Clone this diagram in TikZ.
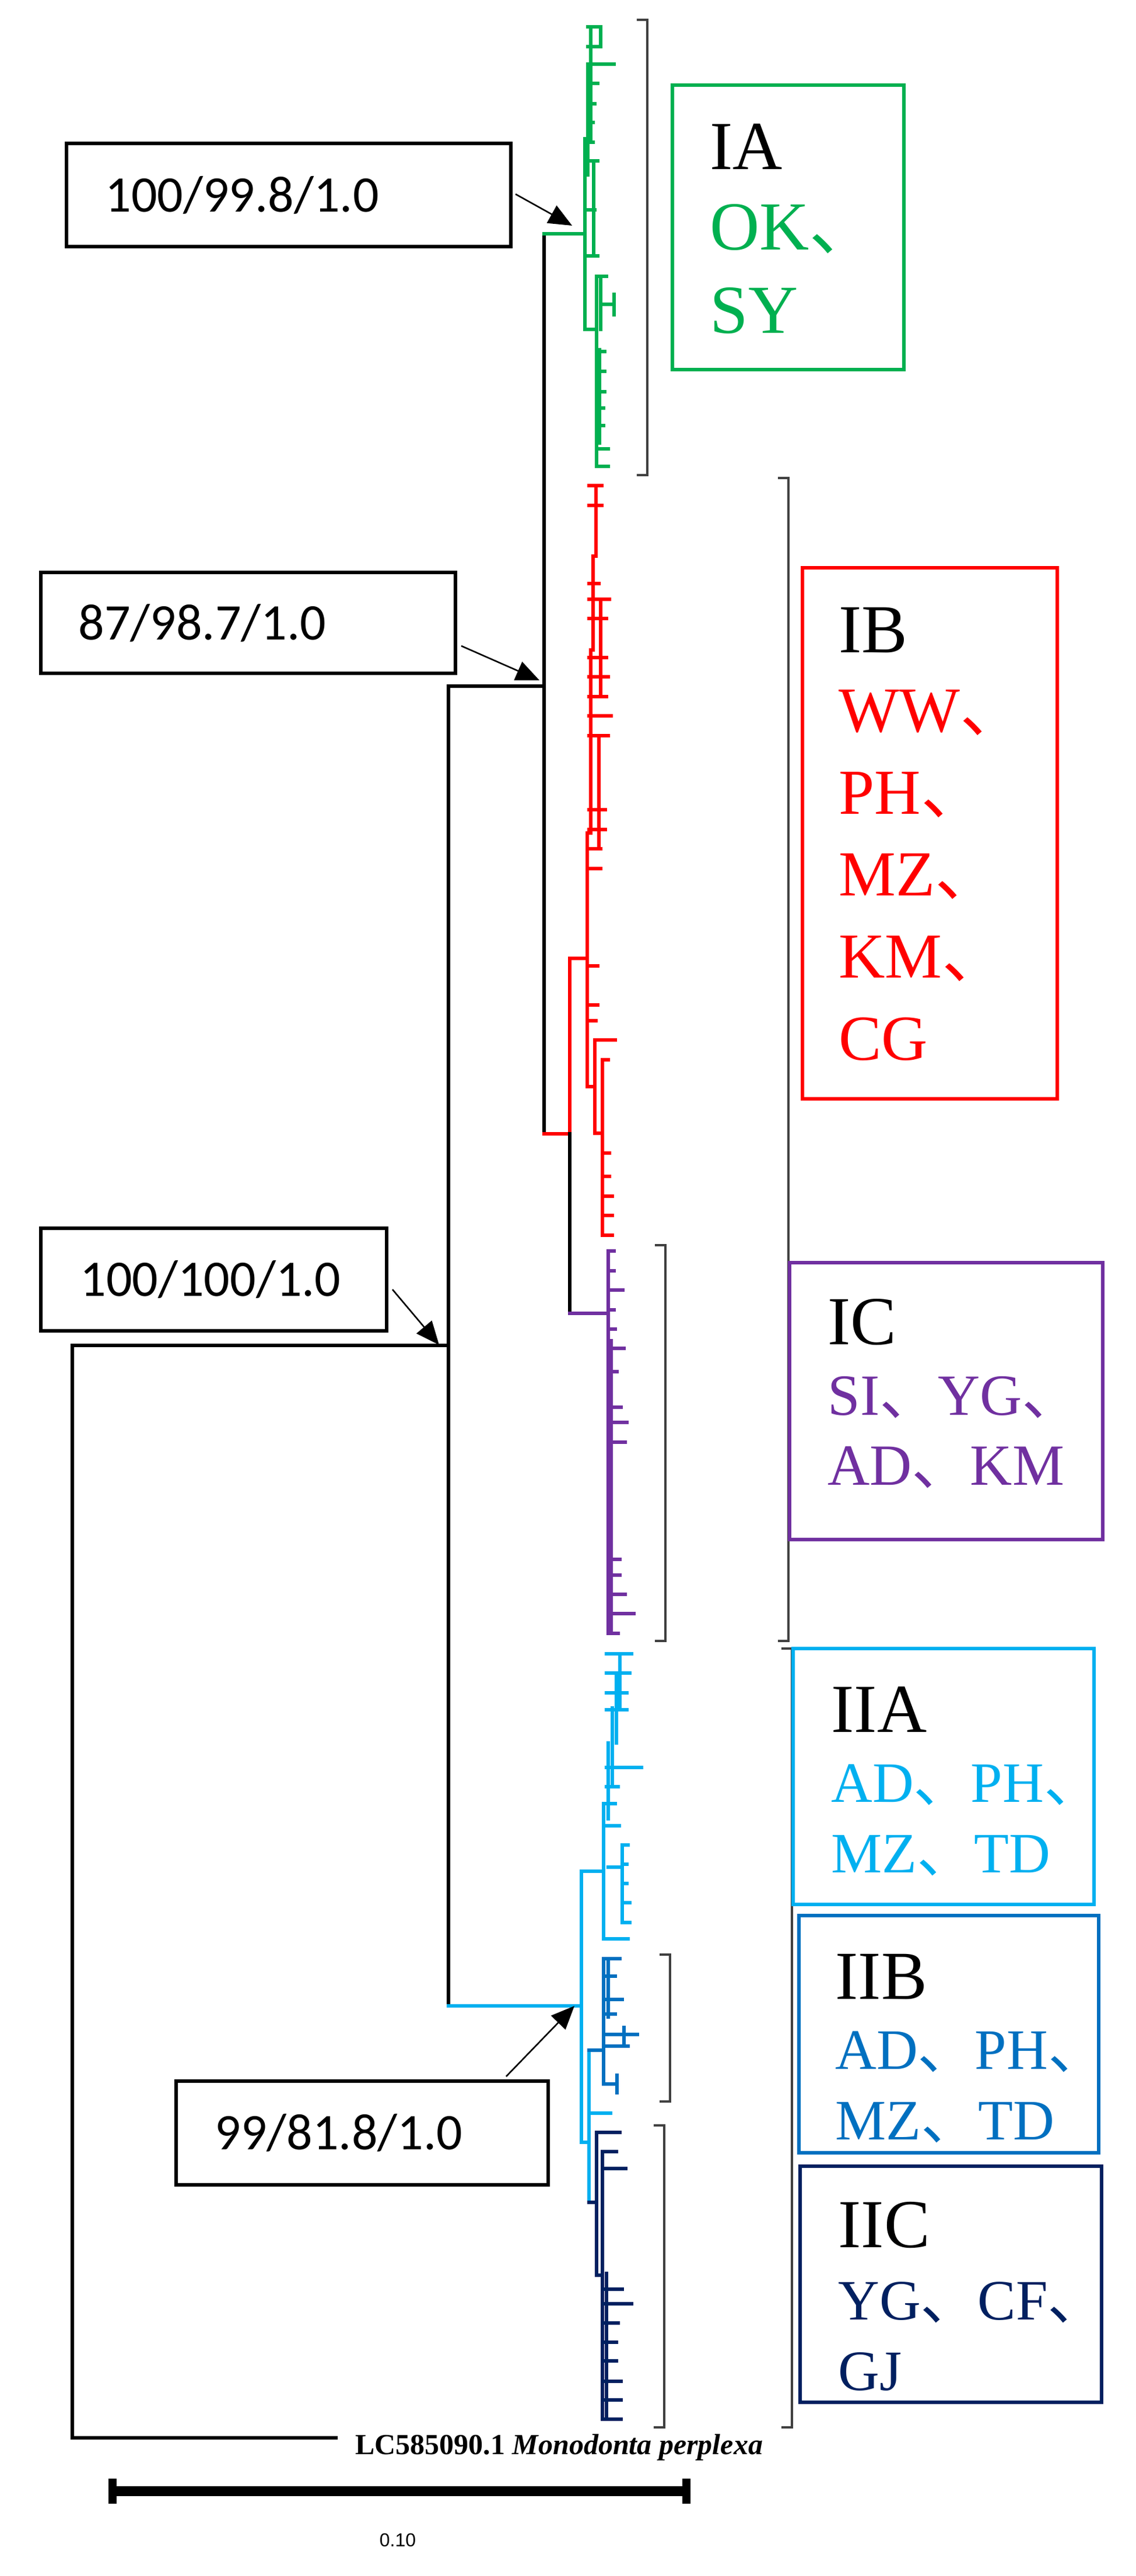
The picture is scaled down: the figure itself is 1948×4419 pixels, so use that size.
\documentclass[tikz,border=0pt]{standalone}
\usepackage{fontspec}
\setmainfont{Liberation Serif}
\newfontfamily\labfont{Carlito}
\newfontfamily\cjkfont{Noto Sans CJK SC}
\newfontfamily\scalefont{Liberation Sans}
\usetikzlibrary{arrows.meta}
\newcommand{\dun}{{\cjkfont 、}}
\definecolor{cG}{HTML}{00B050}
\definecolor{cR}{HTML}{FF0000}
\definecolor{cP}{HTML}{7030A0}
\definecolor{cL}{HTML}{00B0F0}
\definecolor{cB}{HTML}{0070C0}
\definecolor{cN}{HTML}{002060}
\definecolor{brk}{HTML}{404040}
\begin{document}
\begin{tikzpicture}[x=0.5pt,y=-0.5pt,
  br/.style={line width=3pt,line cap=rect},
  cl/.style={line width=2.8pt,line cap=rect},
  bracket/.style={draw=brk,line width=2pt},
  lbox/.style={draw=black,line width=3pt,fill=white,inner sep=0pt},
  ltext/.style={font=\labfont\fontsize{44}{50}\selectfont,anchor=west,inner sep=0pt},
  cbox/.style={line width=2.8pt},
  head/.style={font=\fontsize{59}{60}\selectfont,anchor=base west,inner sep=0pt},
  arr/.style={line width=1.3pt,-{Triangle[length=20pt,width=17pt]}}]
\useasboundingbox (0,0) rectangle (1948,4419);
% ---------- backbone
\coordinate (root) at (124,2308);
\coordinate (nII) at (769,2308);
\coordinate (nI) at (769,1177);
\coordinate (nIA) at (933,401);
\coordinate (nIBC) at (933,1945);
\coordinate (nIIn) at (769,3441);
\coordinate (og) at (576,4182);
\draw[br] (og) -- (124,4182) -- (root) -- (nII);
\draw[br] (nI) -- (nIIn);
\draw[br] (nI) -- (933,1177);
\draw[br] (nIA) -- (nIBC);
% ---------- IA green
\begin{scope}[cl,draw=cG]
\draw[br,cG] (nIA) -- (1003,401);
\draw (1003,238) -- (1003,565);
\draw (1008,110) -- (1008,300);
\draw (1013,46) -- (1013,238);
\draw (1030,46) -- (1030,80);
\foreach \y/\e in {46/1030,80/1030,110/1053,143/1025,178/1020,210/1017,244/1017,276/1025,360/1020,439/1025}
  \draw (1008,\y) -- (\e,\y);
\draw (1018,276) -- (1018,439);
\draw (1003,565) -- (1023,565);
\draw (1023,474) -- (1023,800);
\draw (1028,600) -- (1028,760);
\draw (1023,474) -- (1040,474);
\draw (1030,474) -- (1030,565);
\draw (1030,522) -- (1053,522);
\draw (1053,505) -- (1053,540);
\foreach \y/\e in {603/1037,637/1037,672/1037,700/1035,730/1035,770/1043,800/1043}
  \draw (1023,\y) -- (\e,\y);
\end{scope}
% ---------- IB red
\begin{scope}[cl,draw=cR]
\draw (nIBC) -- (977,1945);
\draw (977,1644) -- (977,1945);
\draw (977,1644) -- (1007,1644);
\draw (1007,1429) -- (1007,1864);
\draw (1013,1115) -- (1013,1429);
\draw (1017,954) -- (1017,1115);
\draw (1022,833) -- (1022,954);
\draw (1030,1028) -- (1030,1195);
\draw (1027,1262) -- (1027,1456);
\foreach \y/\e in {833/1032,867/1032,1001/1027,1028/1045,1061/1040,1128/1040,1161/1043,1195/1040,1228/1048,1262/1043,1389/1038,1423/1038,1456/1030,1490/1030,1657/1025,1724/1025,1751/1022}
  \draw (1010,\y) -- (\e,\y);
\draw (1007,1864) -- (1020,1864);
\draw (1020,1784) -- (1020,1944);
\draw (1020,1784) -- (1055,1784);
\draw (1020,1944) -- (1033,1944);
\draw (1033,1818) -- (1033,2119);
\foreach \y/\e in {1818/1043,1978/1045,2018/1045,2052/1050,2085/1050,2119/1050}
  \draw (1033,\y) -- (\e,\y);
\end{scope}
% ---------- IC purple
\draw[cl] (977,1945) -- (977,2253);
\begin{scope}[cl,draw=cP]
\draw (977,2253) -- (1043,2253);
\draw (1043,2146) -- (1043,2802);
\draw (1048,2300) -- (1048,2802);
\foreach \y/\e in {2146/1053,2180/1053,2213/1068,2247/1053,2280/1055,2313/1070,2353/1058,2414/1065,2440/1075,2474/1072,2675/1063,2702/1063,2735/1072,2768/1087,2802/1060}
  \draw (1043,\y) -- (\e,\y);
\end{scope}
% ---------- II
\begin{scope}[cl,draw=cL]
\draw[br,cL] (nIIn) -- (997,3441);
\draw (997,3210) -- (997,3675);
\draw (997,3210) -- (1035,3210);
\draw (1035,3094) -- (1035,3326);
\draw (1035,3326) -- (1077,3326);
\draw (1043,2990) -- (1043,3120);
\draw (1050,2930) -- (1050,3060);
\draw (1057,2870) -- (1057,2990);
\draw (1063,2837) -- (1063,2930);
\foreach \y/\e in {2837/1083,2870/1080,2904/1075,2933/1075,3032/1100,3065/1060,3094/1055,3132/1062}
  \draw (1040,\y) -- (\e,\y);
\draw (1043,3203) -- (1067,3203);
\draw (1067,3165) -- (1067,3298);
\foreach \y/\e in {3165/1077,3198/1075,3231/1075,3264/1080,3298/1080}
  \draw (1067,\y) -- (\e,\y);
\draw (997,3675) -- (1010,3675);
\draw (1010,3517) -- (1010,3778);
\draw (1010,3625) -- (1047,3625);
\end{scope}
\begin{scope}[cl,draw=cB]
\draw (1010,3517) -- (1035,3517);
\draw (1035,3360) -- (1035,3575);
\draw (1043,3360) -- (1043,3460);
\foreach \y/\e in {3360/1063,3390/1055,3430/1067,3455/1055,3510/1077,3575/1058}
  \draw (1035,\y) -- (\e,\y);
\draw (1035,3490) -- (1093,3490);
\draw (1070,3478) -- (1070,3510);
\draw (1058,3560) -- (1058,3590);
\end{scope}
\begin{scope}[cl,draw=cN]
\draw (1010,3778) -- (1023,3778);
\draw (1023,3658) -- (1023,3903);
\draw (1023,3658) -- (1063,3658);
\draw (1023,3903) -- (1033,3903);
\draw (1033,3691) -- (1033,4150);
\draw (1040,3900) -- (1040,4150);
\foreach \y/\e in {3691/1057,3720/1073,3927/1067,3952/1083,3985/1060,4018/1057,4050/1057,4085/1065,4117/1065,4150/1065}
  \draw (1033,\y) -- (\e,\y);
\end{scope}
% ---------- brackets
\foreach \x/\a/\b in {1110/34/815,1352/820/2815,1141/2136/2815,1358/2828/4164,1149/3353/3605,1139/3646/4164}
  \draw[bracket] (\x-18,\a) -- (\x,\a) -- (\x,\b) -- (\x-18,\b);
% ---------- clade boxes
\draw[cbox,cG] (1153,146) rectangle (1550,634);
\node[head] at (1217,290) {IA};
\node[head,cG] at (1217,428) {OK\dun};
\node[head,cG] at (1217,571) {SY};
\draw[cbox,cR] (1376,974) rectangle (1813,1885);
\node[head] at (1438,1119) {IB};
\foreach \t/\y in {WW\dun/1255,PH\dun/1396,MZ\dun/1536,KM\dun/1677,CG/1818}
  \node[head,cR,font=\fontsize{55}{56}\selectfont] at (1438,\y) {\t};
\draw[cbox,cP] (1354,2166) rectangle (1891,2641);
\node[head] at (1419,2306) {IC};
\node[head,cP,font=\fontsize{50}{50}\selectfont] at (1419,2427) {SI\dun YG\dun};
\node[head,cP,font=\fontsize{50}{50}\selectfont] at (1419,2547) {AD\dun KM};
\draw[cbox,cL] (1360,2828) rectangle (1876,3267);
\node[head] at (1425,2971) {IIA};
\node[head,cL,font=\fontsize{49}{50}\selectfont] at (1425,3091) {AD\dun PH\dun};
\node[head,cL,font=\fontsize{49}{50}\selectfont] at (1425,3212) {MZ\dun TD};
\draw[cbox,cB] (1370,3286) rectangle (1884,3693);
\node[head] at (1432,3429) {IIB};
\node[head,cB,font=\fontsize{49}{50}\selectfont] at (1432,3549) {AD\dun PH\dun};
\node[head,cB,font=\fontsize{49}{50}\selectfont] at (1432,3670) {MZ\dun TD};
\draw[cbox,cN] (1372,3716) rectangle (1889,4121);
\node[head] at (1437,3855) {IIC};
\node[head,cN,font=\fontsize{49}{50}\selectfont] at (1437,3979) {YG\dun CF\dun};
\node[head,cN,font=\fontsize{49}{50}\selectfont] at (1437,4100) {GJ};
% ---------- support labels
\node[lbox,minimum width=381pt,minimum height=88.5pt] (b1) at (495,334.5) {};
\node[ltext] at (180,334.5) {100/99.8/1.0};
\node[lbox,minimum width=355.5pt,minimum height=86.5pt] (b2) at (425.5,1068.5) {};
\node[ltext] at (134,1068.5) {87/98.7/1.0};
\node[lbox,minimum width=296.5pt,minimum height=88pt] (b3) at (366.5,2195) {};
\node[ltext] at (137,2195) {100/100/1.0};
\node[lbox,minimum width=319pt,minimum height=89pt] (b4) at (621,3659) {};
\node[ltext] at (368,3659) {99/81.8/1.0};
\coordinate (t1) at (884,333); \coordinate (h1) at (981,387);
\coordinate (t2) at (791,1108); \coordinate (h2) at (925,1167);
\coordinate (t3) at (673,2212); \coordinate (h3) at (753,2307);
\coordinate (t4) at (868,3562); \coordinate (h4) at (985,3441);
\draw[arr] (t1) -- (h1);
\draw[arr] (t2) -- (h2);
\draw[arr] (t3) -- (h3);
\draw[arr] (t4) -- (h4);
% ---------- outgroup and scale
\node[anchor=west,inner sep=0pt,font=\bfseries\fontsize{25}{25}\selectfont] (oglab) at (609,4198) {LC585090.1 \textit{Monodonta perplexa}};
\coordinate (s1) at (193,4273); \coordinate (s2) at (1177,4273);
\draw[line width=8.5pt] (s1) -- (s2);
\draw[line width=7pt] (193,4252) -- (193,4295);
\draw[line width=7pt] (1177,4252) -- (1177,4295);
\node[font=\scalefont\fontsize{16}{16}\selectfont,inner sep=0pt] (sl) at (682,4357) {0.10};
\end{tikzpicture}
\end{document}
